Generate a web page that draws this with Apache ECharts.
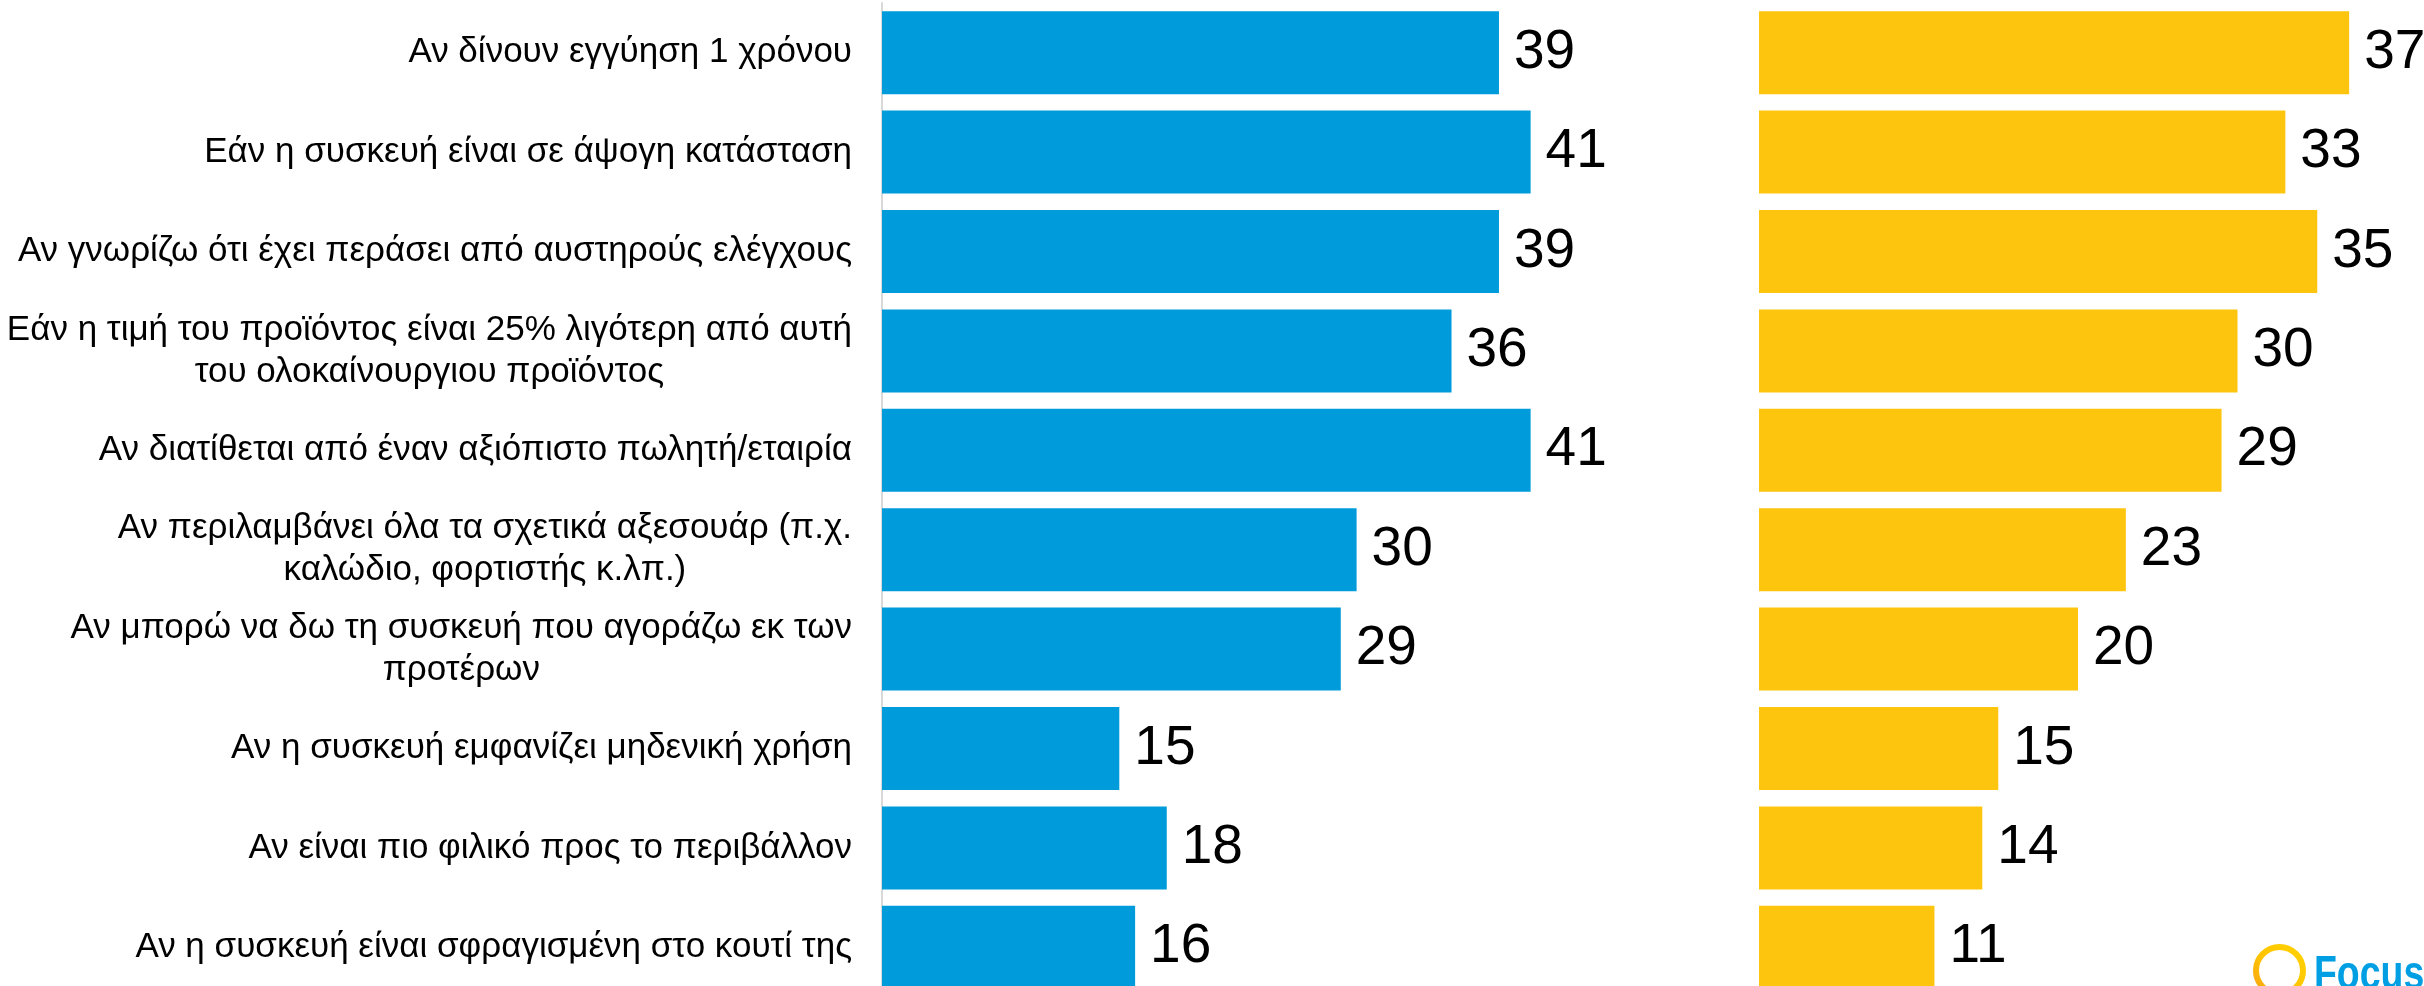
<!DOCTYPE html>
<html>
<head>
<meta charset="utf-8">
<style>
  html, body { margin: 0; padding: 0; background: #ffffff; }
  #chart { width: 2424px; height: 986px; }
</style>
<script src="https://cdn.jsdelivr.net/npm/echarts@6/dist/echarts.min.js"></script>
</head>
<body>
<div id="chart"></div>
<script>
const categories = [
  "Αν δίνουν εγγύηση 1 χρόνου",
  "Εάν η συσκευή είναι σε άψογη κατάσταση",
  "Αν γνωρίζω ότι έχει περάσει από αυστηρούς ελέγχους",
  "Εάν η τιμή του προϊόντος είναι 25% λιγότερη από αυτή\nτου ολοκαίνουργιου προϊόντος",
  "Αν διατίθεται από έναν αξιόπιστο πωλητή/εταιρία",
  "Αν περιλαμβάνει όλα τα σχετικά αξεσουάρ (π.χ.\nκαλώδιο, φορτιστής κ.λπ.)",
  "Αν μπορώ να δω τη συσκευή που αγοράζω εκ των\nπροτέρων",
  "Αν η συσκευή εμφανίζει μηδενική χρήση",
  "Αν είναι πιο φιλικό προς το περιβάλλον",
  "Αν η συσκευή είναι σφραγισμένη στο κουτί της"
];
const blueValues = [39, 41, 39, 36, 41, 30, 29, 15, 18, 16];
const yellowValues = [37, 33, 35, 30, 29, 23, 20, 15, 14, 11];
const logoText = "Focus";

const chart = echarts.init(document.getElementById('chart'), null, { renderer: 'canvas' });

const FONT = "'Liberation Sans', Arial, sans-serif";
const AXIS_MAX = 50;
const BLUE_PX = 15.82;
const YELLOW_PX = 15.95;

const valueLabel = {
  show: true,
  position: 'right',
  distance: 15,
  fontSize: 55,
  fontFamily: FONT,
  color: '#000000'
};

const option = {
  backgroundColor: '#ffffff',
  animation: false,
  grid: [
    { left: 882, top: 3, width: AXIS_MAX * BLUE_PX, height: 994, containLabel: false, outerBoundsMode: 'none' },
    { left: 1759, top: 3, width: AXIS_MAX * YELLOW_PX, height: 994, containLabel: false, outerBoundsMode: 'none' }
  ],
  xAxis: [
    { type: 'value', gridIndex: 0, min: 0, max: AXIS_MAX, show: false },
    { type: 'value', gridIndex: 1, min: 0, max: AXIS_MAX, show: false }
  ],
  yAxis: [
    {
      type: 'category', gridIndex: 0, data: categories, inverse: true,
      axisLine: { show: true, lineStyle: { color: '#D9D9D9', width: 2 } },
      axisTick: { show: false },
      splitLine: { show: false },
      axisLabel: {
        margin: 30,
        formatter: function (v) {
          return v.split('\n').map(function (l) { return '{c|' + l + '}'; }).join('\n');
        },
        rich: {
          c: { align: 'center', fontSize: 35, lineHeight: 42, fontFamily: FONT, color: '#000000' }
        }
      }
    },
    {
      type: 'category', gridIndex: 1, data: categories, inverse: true,
      axisLine: { show: false }, axisTick: { show: false }, axisLabel: { show: false }, splitLine: { show: false }
    }
  ],
  series: [
    {
      type: 'bar', xAxisIndex: 0, yAxisIndex: 0, data: blueValues,
      barCategoryGap: '16.5%',
      itemStyle: { color: '#009BDB' },
      label: valueLabel
    },
    {
      type: 'bar', xAxisIndex: 1, yAxisIndex: 1, data: yellowValues,
      barCategoryGap: '16.5%',
      itemStyle: { color: '#FEC50F' },
      label: valueLabel
    }
  ],
  graphic: [
    {
      type: 'circle',
      shape: { cx: 2279.5, cy: 970.5, r: 23.5 },
      style: {
        fill: 'none',
        lineWidth: 6,
        stroke: new echarts.graphic.LinearGradient(1, 0, 0, 1, [
          { offset: 0, color: '#FFD400' },
          { offset: 0.55, color: '#FFC400' },
          { offset: 1, color: '#F7A01B' }
        ])
      }
    },
    {
      type: 'text',
      x: 2314,
      y: 975.5,
      scaleX: 0.78,
      style: {
        text: logoText,
        fontSize: 48,
        fontWeight: 'bold',
        fontFamily: FONT,
        fill: '#009FE3',
        verticalAlign: 'middle',
        align: 'left'
      }
    }
  ]
};

chart.setOption(option);
</script>
</body>
</html>
